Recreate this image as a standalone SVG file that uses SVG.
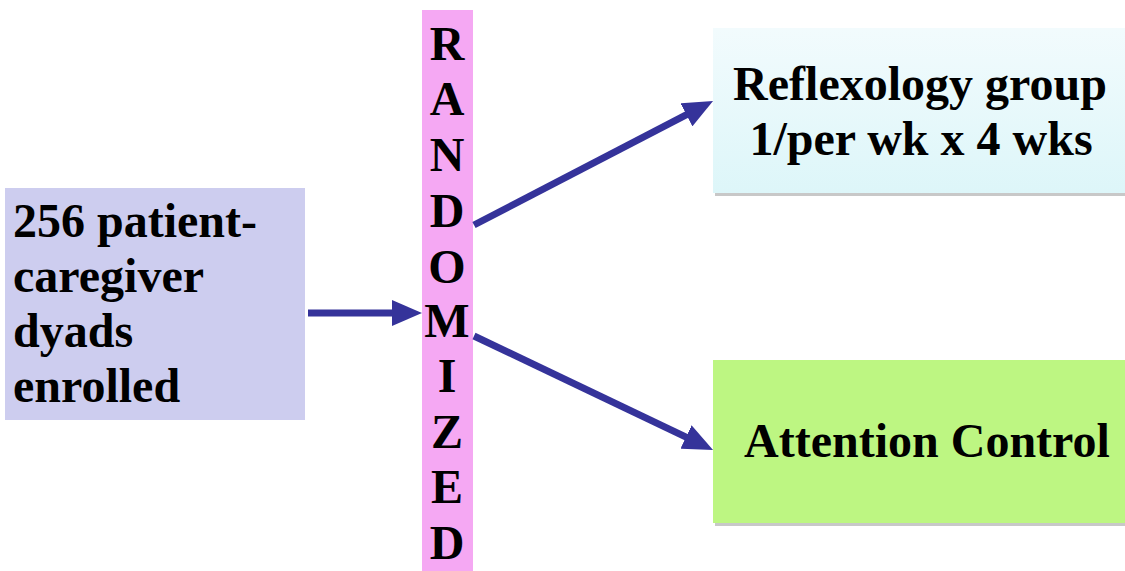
<svg xmlns="http://www.w3.org/2000/svg" width="1125" height="571" viewBox="0 0 1125 571">
  <style>
    .t { font-family: "Liberation Serif", "Times New Roman", serif; font-weight: bold; font-size: 48px; fill: #000; }
    .c { text-anchor: middle; }
    .conn { stroke: #35339a; stroke-width: 7; fill: none; }
  </style>
  <defs>
    <marker id="ah" markerUnits="userSpaceOnUse" markerWidth="32" markerHeight="26" refX="10" refY="13" orient="auto">
      <path d="M0,0 L30,13 L0,26 Z" fill="#35339a"/>
    </marker>
    <linearGradient id="cyan" x1="0" y1="0" x2="0" y2="1">
      <stop offset="0" stop-color="#f2fbfd"/>
      <stop offset="1" stop-color="#ddf6f9"/>
    </linearGradient>
  </defs>
  <rect width="1125" height="571" fill="#ffffff"/>

  <g id="enrolled">
    <rect x="5" y="188" width="300" height="232" fill="#cdcdef"/>
    <text class="t" x="13" y="237">256 patient-</text>
    <text class="t" x="13" y="292">caregiver</text>
    <text class="t" x="13" y="347">dyads</text>
    <text class="t" x="13" y="402">enrolled</text>
  </g>

  <g id="randomized">
    <rect x="422" y="10" width="51" height="561" fill="#f5a8f3"/>
    <text class="t c" x="447" y="60">R</text>
    <text class="t c" x="447" y="115">A</text>
    <text class="t c" x="447" y="171">N</text>
    <text class="t c" x="447" y="227">D</text>
    <text class="t c" x="447" y="283">O</text>
    <text class="t c" x="447" y="337">M</text>
    <text class="t c" x="447" y="392">I</text>
    <text class="t c" x="447" y="448">Z</text>
    <text class="t c" x="447" y="503">E</text>
    <text class="t c" x="447" y="559">D</text>
  </g>

  <g id="reflexology">
    <rect x="715" y="30" width="415" height="166" fill="#c8c8c8"/>
    <rect x="713" y="28" width="415" height="165" fill="url(#cyan)"/>
    <text class="t c" x="920" y="100">Reflexology group</text>
    <text class="t c" x="921" y="155">1/per wk x 4 wks</text>
  </g>

  <g id="attention">
    <rect x="715" y="362" width="415" height="164" fill="#c8c8c8"/>
    <rect x="713" y="360" width="415" height="163" fill="#bdf682"/>
    <text class="t c" x="927" y="457">Attention Control</text>
  </g>

  <g id="connectors">
    <line class="conn" x1="308" y1="313" x2="402" y2="313" marker-end="url(#ah)"/>
    <line class="conn" x1="474" y1="225" x2="695.3" y2="110.2" marker-end="url(#ah)"/>
    <line class="conn" x1="474" y1="336" x2="695" y2="441.4" marker-end="url(#ah)"/>
  </g>
</svg>
